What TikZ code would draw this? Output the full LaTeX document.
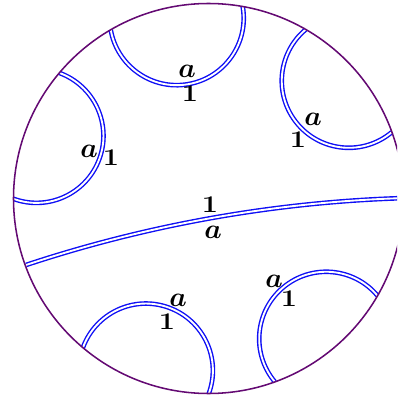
\documentclass[tikz,border=0pt]{standalone}
\definecolor{bnd}{RGB}{100,10,115}
\definecolor{geo}{RGB}{15,15,245}
\newcommand{\wideone}{\scalebox{1.2}[1]{1}}
\begin{document}
\begin{tikzpicture}[x=0.75pt,y=-0.75pt,
  geod/.style={draw=geo, line width=1.05pt, double=white, double distance=1.4pt},
  bndry/.style={draw=bnd, line width=1.15pt},
  lbla/.style={inner sep=0pt, font=\fontsize{20}{20}\selectfont\boldmath},
  lblone/.style={inner sep=0pt, font=\fontsize{18}{18}\selectfont\bfseries}]
\useasboundingbox (0,0) rectangle (397,398);
\clip (0,0) rectangle (397,398);
\coordinate (O) at (208.5,198.5);
% semicircular geodesics
\foreach \p in {-160,-100,-40,50,110} {
  \draw[geod] (O) ++(\p:183.1) ++(\p+90:67) arc[start angle=\p+90, end angle=\p+270, radius=67];
}
% long geodesic
\coordinate (L) at (26,265);
\draw[geod] (L) arc[start angle=-108.33, end angle=-91.77, radius=1331.5];
% boundary
\draw[bndry] (O) circle[radius=195];
% labels
\node[lbla] (a1) at (187,71) {$a$};
\node[lblone] (n1) at (190,94) {\wideone};
\node[lbla] (a2) at (313,119) {$a$};
\node[lblone] (n2) at (298,140) {\wideone};
\node[lbla] (a3) at (89,151) {$a$};
\node[lblone] (n3) at (111,158) {\wideone};
\node[lblone] (n4) at (210,205) {\wideone};
\node[lbla] (a4) at (213,232) {$a$};
\node[lbla] (a5) at (178,300) {$a$};
\node[lblone] (n5) at (167,322) {\wideone};
\node[lbla] (a6) at (274,281) {$a$};
\node[lblone] (n6) at (289,299) {\wideone};
\end{tikzpicture}
\end{document}
